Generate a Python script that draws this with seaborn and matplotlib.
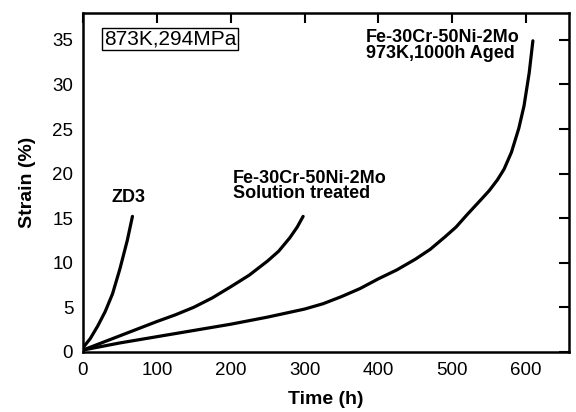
import matplotlib
matplotlib.use("Agg")
import matplotlib.pyplot as plt
import seaborn as sns
import pandas as pd

sns.set_theme(style="white")
plt.rcParams['font.family'] = ['Liberation Sans', 'DejaVu Sans']
plt.rcParams['text.color'] = 'black'
plt.rcParams['axes.labelcolor'] = 'black'
plt.rcParams['xtick.color'] = 'black'
plt.rcParams['ytick.color'] = 'black'

# Data
zd3_t = [0, 10, 20, 30, 40, 50, 60, 67]
zd3_s = [0.45, 1.5, 2.9, 4.5, 6.5, 9.3, 12.5, 15.2]

sol_t = [0, 25, 50, 100, 125, 150, 175, 200, 225, 250, 265, 280, 290, 298]
sol_s = [0.2, 1.0, 1.8, 3.4, 4.15, 5.0, 6.05, 7.3, 8.6, 10.2, 11.3, 12.8, 14.0, 15.2]

aged_t = [0, 50, 100, 150, 200, 250, 300, 325, 350, 375, 400, 425, 450, 470,
          490, 505, 520, 539, 550, 561, 570, 580, 590, 597, 604, 609]
aged_s = [0.2, 1.0, 1.7, 2.4, 3.1, 3.9, 4.8, 5.4, 6.2, 7.1, 8.2, 9.2, 10.4, 11.5,
          12.9, 14.0, 15.4, 17.1, 18.1, 19.3, 20.5, 22.4, 25.1, 27.6, 31.3, 34.9]

x_ticks = [0, 100, 200, 300, 400, 500, 600]
y_ticks = [0, 5, 10, 15, 20, 25, 30, 35]

df = pd.concat([
    pd.DataFrame({"Time": zd3_t, "Strain": zd3_s, "alloy": "ZD3"}),
    pd.DataFrame({"Time": sol_t, "Strain": sol_s, "alloy": "Solution"}),
    pd.DataFrame({"Time": aged_t, "Strain": aged_s, "alloy": "Aged"}),
])

fig = plt.figure(figsize=(5.76, 4.12), dpi=100)
ax = fig.add_axes([0.144, 0.146, 0.844, 0.822])

for name in ["ZD3", "Solution", "Aged"]:
    sub = df[df["alloy"] == name]
    sns.lineplot(data=sub, x="Time", y="Strain", ax=ax, color="black",
                 linewidth=2.3, estimator=None, sort=False, legend=False)

ax.set_xlim(0, 658)
ax.set_ylim(0, 38)
ax.set_xticks(x_ticks)
ax.set_yticks(y_ticks)
ax.tick_params(direction="in", length=7, width=1.5, top=True, right=True,
               labelsize=13.5, colors="black", pad=7)
ax.tick_params(axis="x", labeltop=False)
ax.tick_params(axis="y", labelright=False)
for sp in ax.spines.values():
    sp.set_color("black")
    sp.set_linewidth(1.8)

ax.set_xlabel("Time (h)", fontsize=14, fontweight="bold", labelpad=9)
ax.set_ylabel("Strain (%)", fontsize=14, fontweight="bold", labelpad=12)

ax.text(28, 35.1, "873K,294MPa", fontsize=15, va="center", ha="left",
        bbox=dict(boxstyle="square,pad=0.08", fc="white", ec="black", lw=1))
ax.text(61, 17.3, "ZD3", fontsize=13, fontweight="bold", ha="center", va="center")
ax.text(203, 18.6, "Fe-30Cr-50Ni-2Mo\nSolution treated", fontsize=13,
        fontweight="bold", ha="left", va="center", linespacing=0.9)
ax.text(383, 34.4, "Fe-30Cr-50Ni-2Mo\n973K,1000h Aged", fontsize=13,
        fontweight="bold", ha="left", va="center", linespacing=0.9)

fig.savefig("out.png", dpi=100)
